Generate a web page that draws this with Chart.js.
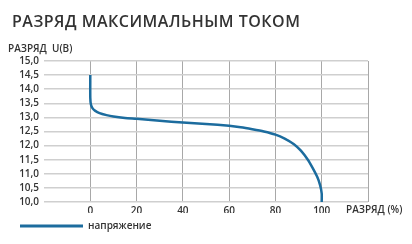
<!DOCTYPE html>
<html lang="ru">
<head>
    <meta charset="UTF-8">
    <title>Разряд максимальным током</title>
    <style>
        body, html {
            margin: 0;
            padding: 0;
            width: 412px;
            height: 244px;
            background: #fff;
            overflow: hidden;
        }
        .wrap {
            position: relative;
            width: 412px;
            height: 244px;
        }
        .title {
            position: absolute;
            left: 12px;
            top: 10px;
            font: 600 16px "Open Sans", sans-serif;
            letter-spacing: 0.5px;
            color: #333;
            white-space: nowrap;
        }
        .ylabel, .xlabel {
            position: absolute;
            font: 600 10px "Open Sans", sans-serif;
            color: #333;
            white-space: nowrap;
        }
        .ylabel { left: 8px; top: 41px; }
        .xlabel { left: 346px; top: 202px; }
        canvas { position: absolute; left: 0; top: 0; }
    </style>
    <script src="https://cdn.jsdelivr.net/npm/chart.js"></script>
</head>
<body>
    <div class="wrap">
        <canvas id="dischargeChart" width="412" height="244"></canvas>
        <div class="title">РАЗРЯД МАКСИМАЛЬНЫМ ТОКОМ</div>
        <div class="ylabel">РАЗРЯД&nbsp;&nbsp;U(B)</div>
        <div class="xlabel">РАЗРЯД (%)</div>
    </div>
    <script>
        // discharge, %
        const discharge = [0, 0, 0.3, 1, 2, 4, 7, 10, 15, 20, 30, 40, 50, 60, 65, 70, 75, 80, 84, 88, 91, 94, 96, 98, 99.3, 100, 100];
        // voltage, V
        const voltage = [14.5, 13.7, 13.45, 13.32, 13.24, 13.15, 13.08, 13.03, 12.98, 12.95, 12.88, 12.82, 12.77, 12.7, 12.65, 12.58, 12.5, 12.39, 12.25, 12.05, 11.82, 11.5, 11.22, 10.9, 10.6, 10.3, 10.0];
        const xTicks = [0, 20, 40, 60, 80, 100];
        const seriesName = 'напряжение';

        const points = discharge.map((x, i) => ({ x: x, y: voltage[i] }));
        const tickFont = { family: 'Open Sans', size: 10, weight: '600' };
        const lineColor = '#1c6c9e';

        const ctx = document.getElementById('dischargeChart').getContext('2d');
        new Chart(ctx, {
            type: 'line',
            data: {
                datasets: [{
                    label: seriesName,
                    data: points,
                    borderColor: lineColor,
                    backgroundColor: lineColor,
                    borderWidth: 2.5,
                    pointRadius: 0,
                    tension: 0.2,
                    fill: false
                }]
            },
            options: {
                responsive: false,
                animation: false,
                layout: { padding: { top: 61, right: 44, left: 12, bottom: 3 } },
                plugins: {
                    legend: {
                        position: 'bottom',
                        align: 'start',
                        labels: {
                            boxWidth: 63,
                            boxHeight: 3,
                            padding: 8,
                            color: '#333',
                            font: { family: 'Open Sans', size: 10, weight: '600' },
                            generateLabels: (chart) => {
                                const items = Chart.defaults.plugins.legend.labels.generateLabels(chart);
                                items.forEach(it => { it.lineWidth = 0; it.fillStyle = lineColor; });
                                return items;
                            }
                        }
                    },
                    tooltip: { enabled: false }
                },
                scales: {
                    x: {
                        type: 'linear',
                        min: -20,
                        max: 120,
                        afterBuildTicks: (scale) => {
                            scale.ticks = [-20].concat(xTicks, [120]).map(v => ({ value: v }));
                        },
                        afterFit: (scale) => { scale.height = scale.height - 7; },
                        ticks: {
                            color: '#333',
                            font: tickFont,
                            padding: 3,
                            maxRotation: 0,
                            autoSkip: false,
                            callback: (v) => xTicks.includes(v) ? String(v) : ''
                        },
                        grid: {
                            drawTicks: false,
                            color: (c) => c.tick && c.tick.value === -20 ? 'rgba(0,0,0,0)' : '#a8a8a8',
                            lineWidth: 1
                        },
                        border: { display: false }
                    },
                    y: {
                        min: 10,
                        max: 15,
                        afterFit: (scale) => { scale.width = 32; },
                        ticks: {
                            stepSize: 0.5,
                            autoSkip: false,
                            color: '#333',
                            font: tickFont,
                            padding: 5,
                            callback: (v) => v.toFixed(1).replace('.', ',')
                        },
                        grid: {
                            drawTicks: false,
                            color: '#cfcfcf',
                            lineWidth: 1.5
                        },
                        border: { display: false }
                    }
                }
            }
        });
    </script>
</body>
</html>
